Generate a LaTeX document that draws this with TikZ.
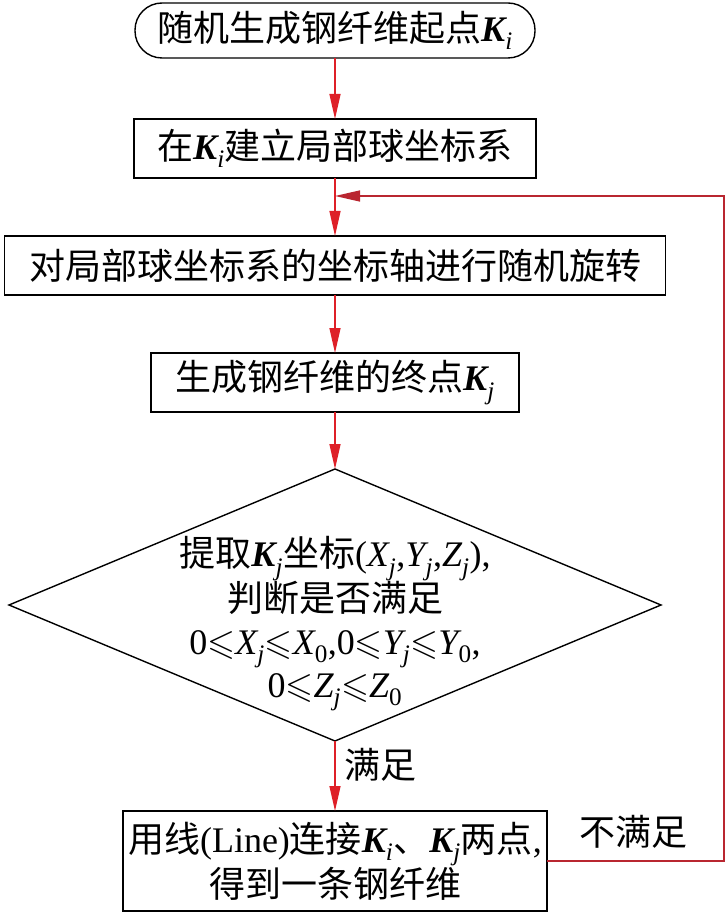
\documentclass[tikz,border=0pt]{standalone}
\usepackage{amssymb}
\usepackage{fontspec}
\setmainfont{Noto Sans CJK SC}
\newfontfamily\tnr{Liberation Serif}
\usepackage{tikz}
\usetikzlibrary{shapes.geometric, arrows.meta, positioning}

\definecolor{flowred}{RGB}{222,32,40}
\definecolor{loopred}{RGB}{185,38,48}
\newcommand{\kv}[2]{{\tnr\bfseries\itshape #1}\textsubscript{\tnr\itshape #2}}
\newcommand{\xv}[2]{{\tnr\itshape #1}\textsubscript{\tnr\itshape #2}}

\tikzset{
  startstop/.style={draw, line width=1.4pt, rounded corners=27pt, minimum width=400pt, minimum height=55pt, inner sep=0pt, outer sep=0pt},
  process/.style={draw, line width=1.4pt, minimum height=59pt, inner sep=0pt, outer sep=0pt},
  decision/.style={draw, diamond, line width=1.4pt, minimum width=652pt, minimum height=272pt, inner sep=0pt, outer sep=0pt},
  flow/.style={draw=flowred, line width=1.4pt, -{Triangle[length=25pt,width=11pt]}},
  back/.style={draw=loopred, line width=1.4pt, -{Triangle[length=25pt,width=11pt]}}
}

\begin{document}
\begin{tikzpicture}[font=\fontsize{36}{43}\selectfont]
\useasboundingbox (0,0) rectangle (725pt,-917pt);

% Start
\node[startstop] (start) at (335pt,-30.5pt) {随机生成钢纤维起点\kv{K}{i}};

% Steps
\node[process, minimum width=402pt, below=61pt of start] (coord) {在\kv{K}{i}建立局部球坐标系};
\node[process, minimum width=661pt, below=58pt of coord] (rotate) {对局部球坐标系的坐标轴进行随机旋转};
\node[process, minimum width=368pt, below=58pt of rotate] (endpt) {生成钢纤维的终点\kv{K}{j}};

% Check
\node[decision, below=57pt of endpt] (check) {};
\node[align=center, inner sep=0pt] (checktxt) at ([yshift=-19pt]check.center)
  {提取\kv{K}{j}坐标{\tnr(}\xv{X}{j}{\tnr,}\xv{Y}{j}{\tnr,}\xv{Z}{j}{\tnr),}\\
   判断是否满足\\
   {\tnr 0}$\leqslant$\xv{X}{j}$\leqslant$\xv{X}{\upshape 0}{\tnr,0}$\leqslant$\xv{Y}{j}$\leqslant$\xv{Y}{\upshape 0}{\tnr,}\\
   {\tnr 0}$\leqslant$\xv{Z}{j}$\leqslant$\xv{Z}{\upshape 0}};

% Result
\node[process, minimum width=424pt, minimum height=100pt, align=center, below=70pt of check] (result)
  {用线{\tnr(Line)}连接\kv{K}{i}、\kv{K}{j}两点{\tnr,}\\得到一条钢纤维};

% Connectors
\draw[flow] (start) -- (coord);
\draw[flow] (coord) -- (rotate);
\draw[flow] (rotate) -- (endpt);
\draw[flow] (endpt) -- (check);
\draw[flow] (check) -- (result);
\node (yes) at (380pt,-765pt) {满足};

% Loop back
\coordinate (join) at ([yshift=-18pt]coord.south);
\draw[back] (result.east) -- ++(177pt,0) |- (join);
\node (no) at (633pt,-832pt) {不满足};
\end{tikzpicture}
\end{document}
